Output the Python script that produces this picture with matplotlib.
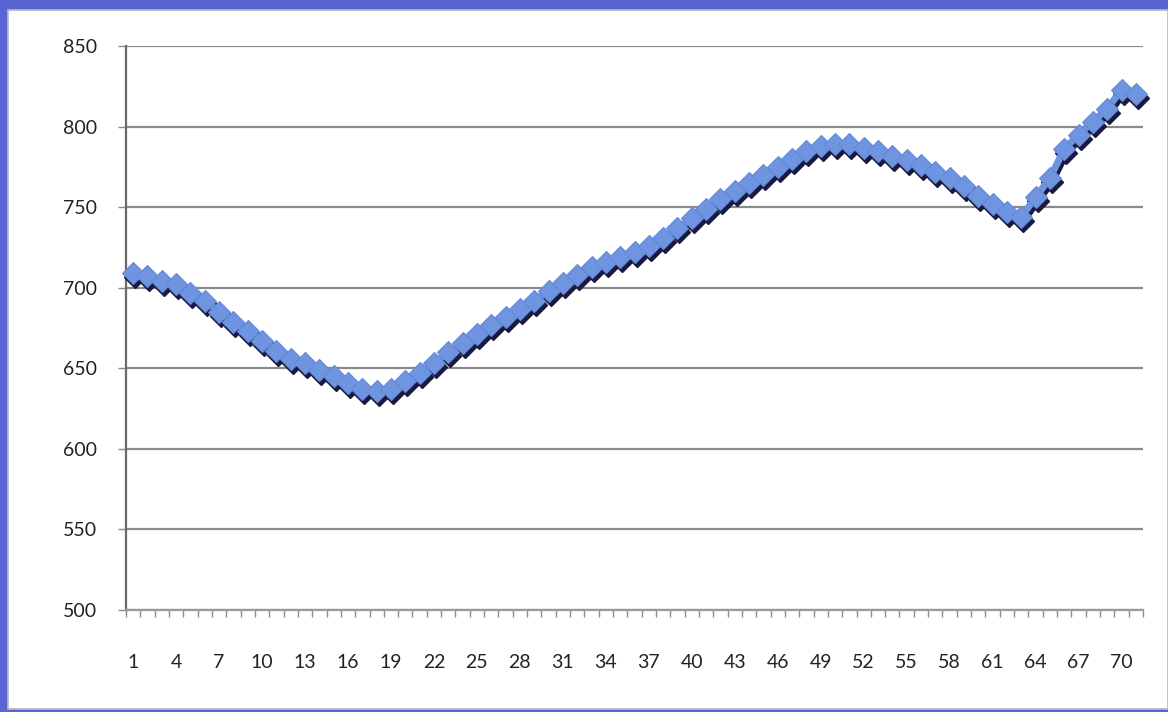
import numpy as np
import matplotlib
matplotlib.use("Agg")
import matplotlib.pyplot as plt
from matplotlib import transforms
from matplotlib.patches import Rectangle

# --- series values (one per period) ---
periods = np.arange(1, 72)
values = [
    709, 707, 704, 702, 697, 692, 685, 679, 673, 667,
    661, 656, 653, 649, 645, 641, 637, 636, 637, 642,
    647, 653, 660, 666, 671, 677, 682, 687, 692, 698,
    703, 708, 713, 716, 719, 722, 726, 731, 737, 743,
    749, 755, 760, 765, 770, 775, 780, 785, 788, 789,
    789, 787, 785, 782, 779, 776, 772, 768, 763, 757,
    752, 747, 744, 756, 768, 786, 795, 803, 811, 823,
    820,
]
label_periods = list(range(1, 72, 3))
y_ticks = list(range(500, 851, 50))

plt.rcParams['font.family'] = ['Lato', 'DejaVu Sans']

fig = plt.figure(figsize=(11.68, 7.12), dpi=100)
fig.patch.set_facecolor('#5a64d2')

# white chart panel sitting on the slide background
fig.patches.append(Rectangle((8 / 1168, 3 / 712), 1 - 8 / 1168, 1 - 13 / 712,
                             transform=fig.transFigure, facecolor='white',
                             edgecolor='#b8b8c0', linewidth=1.2, zorder=-1))

ax = fig.add_axes([126 / 1168, 1 - 610 / 712, (1143 - 126) / 1168, (610 - 46) / 712])
ax.set_zorder(1)
ax.set_facecolor('none')

# drop shadow first, then the markers on top
shadow = transforms.offset_copy(ax.transData, fig=fig, x=2, y=-4, units='dots')
ax.plot(periods, values, color='#1a1a40', linewidth=5, marker='D', markersize=11,
        markeredgecolor='#1a1a40', transform=shadow, zorder=3, clip_on=False)
ax.plot(periods, values, color='#6f95e0', linewidth=5, marker='D', markersize=11,
        markerfacecolor='#6f95e0', markeredgecolor='#6389da', markeredgewidth=0.8,
        zorder=4, clip_on=False)

ax.set_xlim(0.5, 71.5)
ax.set_ylim(500, 850)

ax.set_yticks(y_ticks)
ax.yaxis.grid(True, color='#8a8a8a', linewidth=1.6)
ax.set_axisbelow(True)

# tick marks at every category boundary, labels every third category
ax.set_xticks(np.arange(0.5, 72, 1.0))
ax.set_xticklabels([])
ax.set_xticks(label_periods, minor=True)
ax.set_xticklabels([str(p) for p in label_periods], minor=True)
ax.tick_params(axis='x', which='major', direction='out', length=5, width=1, color='#8a8a8a')
ax.tick_params(axis='x', which='minor', length=0, pad=32, labelsize=14, labelcolor='#222222')
ax.tick_params(axis='y', direction='out', length=6, width=1, color='#8a8a8a',
               pad=15, labelsize=14, labelcolor='#222222')

for side in ('top', 'right'):
    ax.spines[side].set_visible(False)
ax.spines['left'].set_color('#6a6a6a')
ax.spines['left'].set_linewidth(1.6)
ax.spines['bottom'].set_color('#9a9a9a')
ax.spines['bottom'].set_linewidth(1.6)

fig.savefig('out.png', dpi=100, facecolor=fig.get_facecolor())
